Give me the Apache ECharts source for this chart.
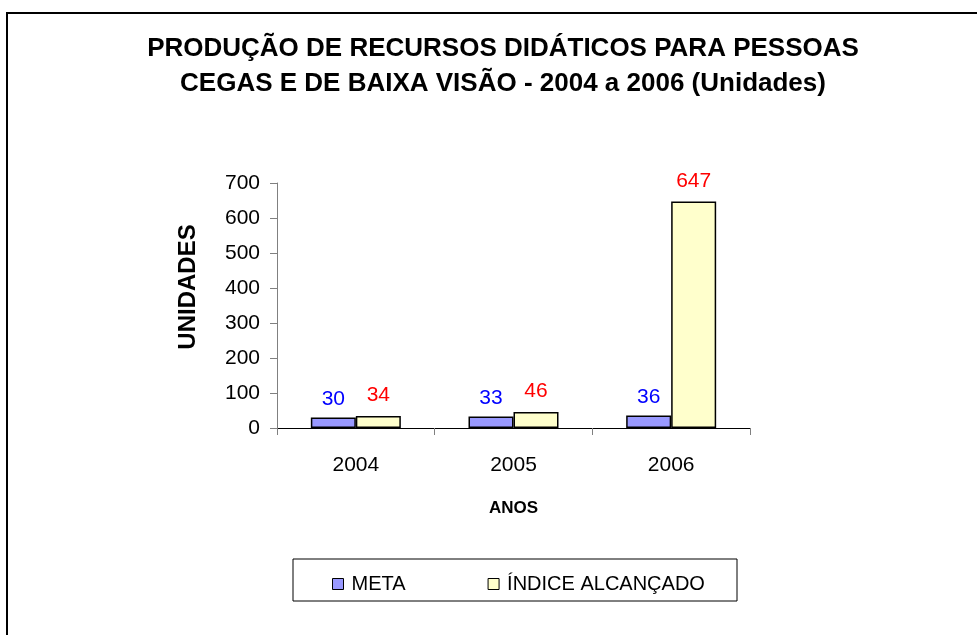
<!DOCTYPE html>
<html>
<head>
<meta charset="utf-8">
<script src="https://cdn.jsdelivr.net/npm/echarts@6/dist/echarts.min.js"></script>
<style>
  html, body { margin: 0; padding: 0; background: #fff; }
</style>
</head>
<body>
<div id="myChart" style="width: 977px; height: 635px;"></div>
<script>
// dados do grafico
const anos = ["2004", "2005", "2006"];
const meta = [30, 33, 36];
const indiceAlcancado = [34, 46, 647];
const yTicks = [0, 100, 200, 300, 400, 500, 600, 700];

const fonte = "Arial, 'Liberation Sans', sans-serif";

let myChart = echarts.init(document.getElementById("myChart"));
myChart.setOption({
  backgroundColor: "#fff",
  animation: false,
  title: {
    text: "PRODUÇÃO DE RECURSOS DIDÁTICOS PARA PESSOAS\nCEGAS E DE BAIXA VISÃO - 2004 a 2006 (Unidades)",
    left: 498,
    textAlign: "center",
    top: 26,
    textStyle: {
      fontFamily: fonte,
      fontWeight: "bold",
      fontSize: 26,
      lineHeight: 35,
      color: "#000"
    }
  },
  // moldura, caixa da legenda e titulo do eixo y
  graphic: [
    {
      type: "rect",
      shape: { x: 7, y: 13, width: 1000, height: 700 },
      style: { fill: "none", stroke: "#000", lineWidth: 2 },
      silent: true
    },
    {
      type: "rect",
      shape: { x: 293, y: 559, width: 444, height: 42 },
      style: { fill: "#fff", stroke: "#000", lineWidth: 1 },
      silent: true,
      z: -1
    },
    {
      type: "text",
      x: 188,
      y: 287,
      rotation: Math.PI / 2,
      style: {
        text: "UNIDADES",
        font: "bold 24px " + fonte,
        fill: "#000",
        textAlign: "center",
        textVerticalAlign: "middle"
      },
      silent: true
    }
  ],
  legend: {
    left: 327,
    top: 569,
    itemWidth: 11,
    itemHeight: 11,
    itemGap: 82,
    icon: "rect",
    data: ["META", "ÍNDICE ALCANÇADO"],
    itemStyle: { borderColor: "#000", borderWidth: 1 },
    textStyle: { fontFamily: fonte, fontSize: 20, color: "#000", padding: [0, 0, 0, 3] }
  },
  grid: {
    left: 277,
    right: 227,
    top: 183,
    bottom: 207
  },
  xAxis: {
    type: "category",
    data: anos,
    name: "ANOS",
    nameLocation: "middle",
    nameGap: 72,
    nameTextStyle: { fontFamily: fonte, fontWeight: "bold", fontSize: 17, color: "#000" },
    axisLine: { lineStyle: { color: "#000", width: 1 } },
    axisTick: { show: true, length: 7, inside: false, lineStyle: { color: "#808080" } },
    axisLabel: { margin: 27, fontFamily: fonte, fontSize: 21, color: "#000" }
  },
  yAxis: {
    type: "value",
    min: yTicks[0],
    max: yTicks[yTicks.length - 1],
    interval: 100,
    splitLine: { show: false },
    axisLine: { show: true, lineStyle: { color: "#808080", width: 1 } },
    axisTick: { show: true, length: 7, lineStyle: { color: "#808080" } },
    axisLabel: { margin: 17, fontFamily: fonte, fontSize: 21, color: "#000" }
  },
  series: [
    {
      name: "META",
      type: "bar",
      data: meta,
      barWidth: 45,
      barGap: "0%",
      itemStyle: { color: "#9999FF", borderColor: "#000", borderWidth: 1.5 },
      label: {
        show: true,
        position: "top",
        distance: 8,
        fontFamily: fonte,
        fontSize: 21,
        color: "#0000FF"
      }
    },
    {
      name: "ÍNDICE ALCANÇADO",
      type: "bar",
      data: indiceAlcancado,
      barWidth: 45,
      itemStyle: { color: "#FFFFCC", borderColor: "#000", borderWidth: 1.5 },
      label: {
        show: true,
        position: "top",
        distance: 10,
        fontFamily: fonte,
        fontSize: 21,
        color: "#FF0000"
      }
    }
  ]
});
</script>
</body>
</html>
